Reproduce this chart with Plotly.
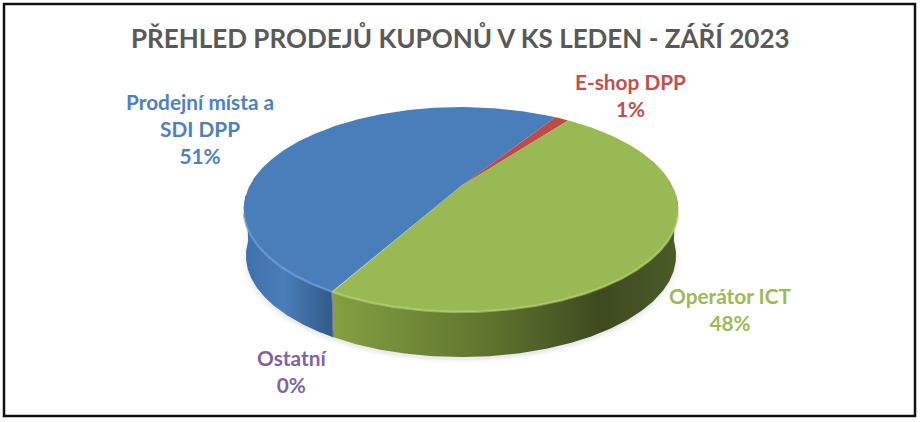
import numpy as np
import plotly.graph_objects as go

# --- data ---
CATEGORIES = ["Prodejní místa a<br>SDI DPP", "E-shop DPP", "Operátor ICT", "Ostatní"]
VALUES = [50.8, 1.3, 47.85, 0.05]
TITLE = "PŘEHLED PRODEJŮ KUPONŮ V KS LEDEN - ZÁŘÍ 2023"

# --- styling ---
TOP_COLORS = ["#4a7ebb", "#be4b48", "#98b954", "#7d60a0"]
TEXT_COLORS = ["#4f81bd", "#c0504d", "#9bbb59", "#8064a2"]
RIM_COLORS = ["#6fa0e0", "#d56a66", "#b9d672", "#9a80bc"]
WALL_GRADIENTS = [
    [[0, "#3f70ac"], [0.45, "#4a7db9"], [1, "#325a88"]],
    [[0, "#a33f3c"], [1, "#7d2f2d"]],
    [[0, "#84a042"], [0.45, "#5f742d"], [0.78, "#3d4a20"], [1, "#4b5c27"]],
    [[0, "#6b5189"], [1, "#55406e"]],
]
LABEL_POS = [(200, 128), (630, 95), (730, 309), (292, 371)]

# geometry of the tilted disc, in plot units (axes run over the pixel box)
CX, CY = 461.0, 186.0
A, B, K = 211.5, 97.0, 0.229
BOT_SCALE, BOT_CY = 0.99, 232.5
START_DEG = 209.3
WALL_FROM, WALL_TO = 95.0, 265.0
RIM_FROM, RIM_TO = 105.0, 255.0


def project(theta_deg, cy=CY, scale=1.0):
    t = np.radians(theta_deg)
    u, v = np.sin(t), -np.cos(t)
    d = 1 - K * v
    return CX + scale * A * u / d, cy + scale * B * v / d


def arc(a, b, n=None):
    n = n or max(int(abs(b - a) * 2), 2)
    return np.linspace(a, b, n)


# slice boundaries, clockwise from START_DEG, derived from the values
total = sum(VALUES)
edges = START_DEG + np.cumsum([0] + [v / total * 360 for v in VALUES])

fig = go.Figure()


def add_poly(x, y, color=None, gradient=None, opacity=1.0):
    kw = dict(fillgradient=dict(type="horizontal", colorscale=gradient)) if gradient else dict(fillcolor=color)
    fig.add_trace(go.Scatter(x=list(x), y=list(y), mode="lines", fill="toself",
                             line=dict(width=0), opacity=opacity,
                             hoverinfo="skip", showlegend=False, **kw))


# soft shadow under the disc
full = arc(0, 360, 360)
for grow, alpha in [(1.025, 0.035), (1.012, 0.05), (1.0, 0.07)]:
    sx, sy = project(full, cy=BOT_CY + 3, scale=BOT_SCALE * grow)
    add_poly(sx, sy, color="#808080", opacity=alpha)

# side walls
for i in range(len(VALUES)):
    for shift in (-360, 0, 360):
        a = max(edges[i] + shift, WALL_FROM)
        b = min(edges[i + 1] + shift, WALL_TO)
        if b - a <= 0.01:
            continue
        th = arc(a, b)
        tx, ty = project(th)
        bx, by = project(th, cy=BOT_CY, scale=BOT_SCALE)
        add_poly(np.r_[tx, bx[::-1]], np.r_[ty, by[::-1]], gradient=WALL_GRADIENTS[i])

# top faces
for i in range(len(VALUES)):
    th = arc(edges[i], edges[i + 1])
    x, y = project(th)
    add_poly(np.r_[CX, x], np.r_[CY, y], color=TOP_COLORS[i])

# light bevel along the front rim
for i in range(len(VALUES)):
    for shift in (-360, 0, 360):
        a = max(edges[i] + shift, RIM_FROM)
        b = min(edges[i + 1] + shift, RIM_TO)
        if b - a <= 0.01:
            continue
        x, y = project(arc(a, b))
        fig.add_trace(go.Scatter(x=x, y=y, mode="lines",
                                 line=dict(color=RIM_COLORS[i], width=2.5),
                                 opacity=0.6, hoverinfo="skip", showlegend=False))

# data labels
for name, val, col, (lx, ly) in zip(CATEGORIES, VALUES, TEXT_COLORS, LABEL_POS):
    fig.add_annotation(x=lx, y=ly, xref="x", yref="y", showarrow=False, align="center",
                       text=f"<b>{name}<br>{round(val)}%</b>",
                       font=dict(family="Lato", size=20.8, color=col))

# title
fig.add_annotation(x=460, y=37, xref="x", yref="y", showarrow=False, text=f"<b>{TITLE}</b>",
                   font=dict(family="Lato", size=26, color="#595959"))

fig.update_layout(
    width=920, height=422, margin=dict(l=0, r=0, t=0, b=0),
    paper_bgcolor="white", plot_bgcolor="white",
    xaxis=dict(range=[0, 920], visible=False, fixedrange=True),
    yaxis=dict(range=[422, 0], visible=False, fixedrange=True),
    shapes=[dict(type="rect", xref="x", yref="y", x0=4, y0=4, x1=915, y1=416,
                 line=dict(color="#111111", width=2.5))],
)
fig.write_html("out.html", config=dict(displayModeBar=False),
               post_script="document.body.style.margin='0';document.body.style.overflow='hidden';")
